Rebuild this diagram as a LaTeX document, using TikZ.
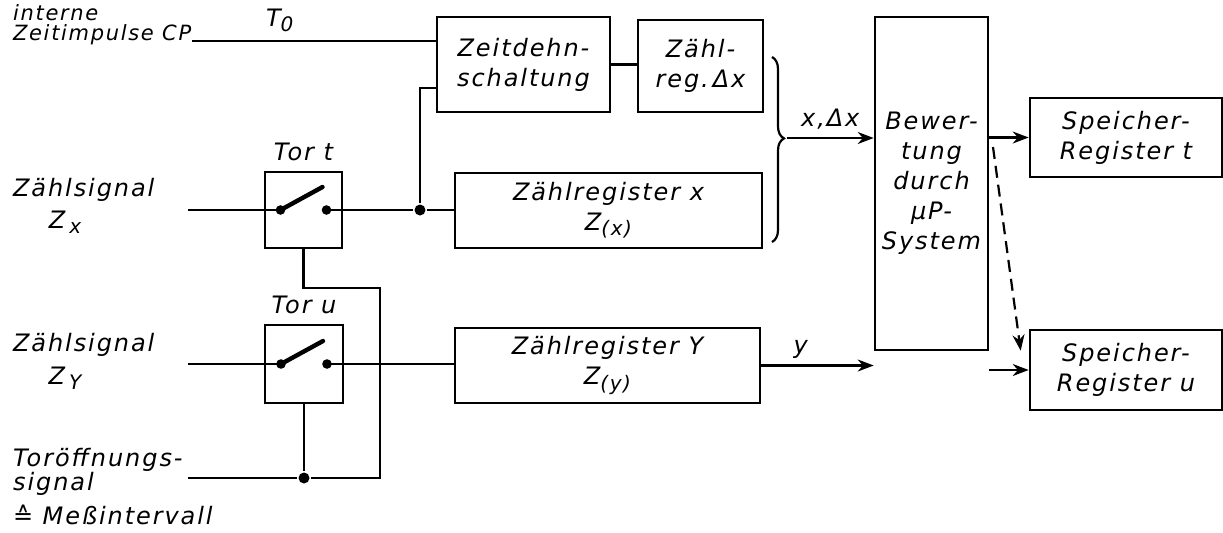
\documentclass[tikz,border=0pt]{standalone}
\usepackage{fontspec}
\setmainfont{DejaVu Sans}[LetterSpace=8]
\usetikzlibrary{arrows.meta, positioning, decorations.pathreplacing, calc}

\newcommand{\tief}[1]{\raisebox{-0.4ex}{\fontsize{10}{10}\selectfont #1}}

\tikzset{
  block/.style={draw, line width=1.3pt, align=center, inner sep=1pt,
    font=\fontsize{12}{15}\selectfont\itshape},
  txt/.style={font=\fontsize{12}{15}\selectfont\itshape, align=left, inner sep=0pt},
  klein/.style={font=\fontsize{10.5}{12}\selectfont\itshape},
  jdot/.style={circle, fill, inner sep=0pt, minimum size=5.5pt},
  pfeil/.style={-{Stealth[length=8pt,width=6pt]}},
}

\begin{document}
\begin{tikzpicture}[x=0.5pt, y=-0.5pt, line width=1.1pt]
  \useasboundingbox (0,0) rectangle (1223,532);

  % Bloecke
  \node[block, minimum width=86.5pt, minimum height=47.5pt] (zd) at (523.5,64.5) {Zeitdehn-\\schaltung};
  \node[block, minimum width=62.5pt, minimum height=46pt] (zdx) at (700.5,66) {Zähl-\\reg.\,Δx};
  \node[block, minimum width=153.5pt, minimum height=37.5pt] (zrx) at (608.5,210.5) {Zählregister x\\Z\tief{(x)}};
  \node[block, minimum width=152.5pt, minimum height=37.5pt] (zry) at (607.5,365.5) {Zählregister Y\\Z\tief{(y)}};
  \node[block, minimum width=56.5pt, minimum height=166.5pt] (bew) at (931.5,183.5) {Bewer-\\tung\\durch\\µP-\\System};
  \node[block, minimum width=96pt, minimum height=39.5pt] (spt) at (1126,137.5) {Speicher-\\Register t};
  \node[block, minimum width=96pt, minimum height=40pt] (spu) at (1126,370) {Speicher-\\Register u};

  % Tore mit Schalter
  \node[block, minimum width=38.5pt, minimum height=38pt] (tort) at (303.5,210) {};
  \node[block, minimum width=39pt, minimum height=39pt] (toru) at (304,364) {};
  \node[txt, above=4.5pt of tort] {Tor t};
  \node[txt, above=4.5pt of toru] {Tor u};
  \foreach \g in {tort,toru} {
    \coordinate (\g-l) at ($(\g)+(-23,0)$);
    \coordinate (\g-r) at ($(\g)+(23,0)$);
    \draw[line width=2.2pt, line cap=round] (\g-l) -- ($(\g)+(19,-23)$);
    \fill (\g-l) circle[radius=2.4pt];
    \fill (\g-r) circle[radius=2.4pt];
  }

  % Beschriftung links
  \node[txt, klein, anchor=west] at (12,13) {interne};
  \node[txt, klein, anchor=west] at (12,35) {Zeitimpulse CP};
  \node[txt, anchor=west] at (12,190) {Zählsignal};
  \node[txt] at (65,222) {Z\,\tief{x}};
  \node[txt, anchor=west] at (12,345) {Zählsignal};
  \node[txt] at (65,378) {Z\,\tief{Y}};
  \node[txt, anchor=west] at (12,460) {Toröffnungs-};
  \node[txt, anchor=west] at (12,484) {signal};
  \node[txt, anchor=west] at (12,515) {≙ Meßintervall};

  % Eingaenge
  \coordinate (cp) at (192,41);
  \coordinate (inx) at (188,210);
  \coordinate (iny) at (188,364);
  \coordinate (ing) at (188,478);
  \draw (cp) -- (cp -| zd.west) node[txt, pos=0.36, above=4pt] {T\tief{0}};
  \draw (inx) -- (tort-l);
  \draw (iny) -- (toru-l);

  % Verbindungen
  \node[jdot] (jx) at (420,210) {};
  \node[jdot] (jg) at (304,478) {};
  \coordinate (zdin) at ($(zd.west)+(0,23.5)$);
  \coordinate (gk) at (380,288);
  \draw (tort-r) -- (jx) -- (jx -| zrx.west);
  \draw (jx) |- (zdin);
  \draw (zd.east) -- (zd.east -| zdx.west);
  \draw (toru-r) -- (toru-r -| zry.west);
  \draw (tort.south) |- (gk) -- (gk |- jg) -- (jg);
  \draw (toru.south) -- (jg);
  \draw (ing) -- (jg);

  % Klammer und Pfeile
  \draw[decorate, decoration={brace, amplitude=6pt, aspect=0.44}] (772,57) -- (772,242);
  \coordinate (brt) at (787,138);
  \draw[pfeil] (brt) -- (brt -| bew.west) node[txt, midway, above=4pt] {x,Δx};
  \draw[pfeil] (zry.east) -- (zry.east -| bew.west) node[txt, pos=0.35, above=3pt] {y};
  \draw[pfeil] (bew.east |- spt) -- (spt.west);
  \draw[pfeil] (bew.east |- spu) -- (spu.west);
  \coordinate (ds) at (993,147);
  \draw[pfeil, dash pattern=on 6pt off 3.5pt] (ds) -- ($(spu.north west)+(-8,22)$);
\end{tikzpicture}
\end{document}
